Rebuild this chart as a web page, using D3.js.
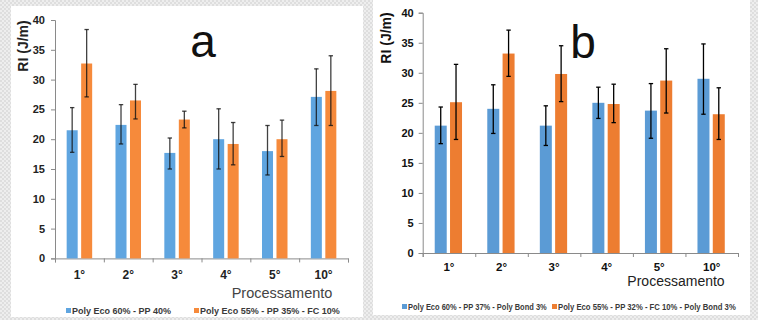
<!DOCTYPE html>
<html><head><meta charset="utf-8">
<script src="https://cdn.jsdelivr.net/npm/d3@7"></script>
<style>
html,body{margin:0;padding:0;background:#fff;}
svg{display:block;font-family:"Liberation Sans",Arial,sans-serif;}
</style></head>
<body>
<svg id="c" width="758" height="320"></svg>
<script>
const categories = ["1°","2°","3°","4°","5°","10°"];
const yTicks = [0,5,10,15,20,25,30,35,40];

const aBlue       = [21.5, 22.4, 17.7, 20.0, 18.0, 27.1];
const aBlueHigh   = [25.3, 25.8, 20.2, 25.1, 22.3, 31.8];
const aBlueLow    = [17.8, 19.2, 15.0, 15.0, 14.0, 22.3];
const aOrange     = [32.7, 26.5, 23.3, 19.2, 20.0, 28.1];
const aOrangeHigh = [38.4, 29.2, 24.7, 22.8, 23.2, 34.0];
const aOrangeLow  = [27.1, 23.4, 21.9, 15.7, 17.1, 22.3];

const bBlue       = [21.2, 24.0, 21.2, 25.0, 23.7, 29.0];
const bBlueHigh   = [24.3, 28.0, 24.5, 27.6, 28.2, 34.8];
const bBlueLow    = [18.2, 19.9, 17.9, 22.4, 19.1, 23.1];
const bOrange     = [25.1, 33.2, 29.8, 24.8, 28.7, 23.1];
const bOrangeHigh = [31.4, 37.1, 34.5, 28.1, 34.0, 27.5];
const bOrangeLow  = [18.9, 29.4, 25.2, 21.7, 23.3, 18.9];

const aLegend = ["Poly Eco 60% - PP 40%", "Poly Eco 55% - PP 35% - FC 10%"];
const bLegend = ["Poly Eco 60% - PP 37% - Poly Bond 3%", "Poly Eco 55% - PP 32% - FC 10% - Poly Bond 3%"];

const svg = d3.select("#c");
const defs = svg.append("defs");
const pat = defs.append("pattern").attr("id","chk").attr("width",4).attr("height",4).attr("patternUnits","userSpaceOnUse");
pat.append("rect").attr("width",4).attr("height",4).attr("fill","#eeeeee");
pat.append("rect").attr("width",2).attr("height",2).attr("fill","#dedede");
pat.append("rect").attr("x",2).attr("y",2).attr("width",2).attr("height",2).attr("fill","#dedede");

svg.append("rect").attr("width",758).attr("height",320).attr("fill","url(#chk)");
svg.append("rect").attr("x",11).attr("y",6).attr("width",352).attr("height",311).attr("fill","#fff");
svg.append("rect").attr("x",373).attr("y",0).attr("width",377).attr("height",315).attr("fill","#fff");

function panel(cfg){
  const g = svg.append("g");
  const y = d3.scaleLinear().domain([0,40]).range([cfg.y0, cfg.y40]);
  const x = d3.scaleBand().domain(categories).range([cfg.x0, cfg.x1]).padding(0);
  const xs = d3.scaleBand().domain([0,1]).range([-cfg.grp/2 + cfg.shift, cfg.grp/2 + cfg.shift]).paddingInner(cfg.pin);
  const bound = d3.scaleLinear().domain([0,6]).range([cfg.x0, cfg.x1]);

  const ya = g.append("g").attr("transform",`translate(${cfg.x0},0)`)
    .call(d3.axisLeft(y).tickValues(yTicks).tickSize(4).tickPadding(cfg.tpad));
  ya.select(".domain").attr("stroke","#8a8a8a");
  ya.selectAll(".tick line").attr("stroke","#8a8a8a");
  ya.selectAll("text").attr("font-size",cfg.tfs).attr("font-weight","bold").attr("fill",cfg.tcol)
    .attr("font-family",cfg.tfam);

  const xb = g.append("g").attr("transform",`translate(0,${cfg.y0})`)
    .call(d3.axisBottom(bound).tickValues([0,1,2,3,4,5,6]).tickSize(4).tickFormat(""));
  xb.select(".domain").attr("stroke","#8a8a8a");
  xb.selectAll(".tick line").attr("stroke","#8a8a8a");

  const xl = g.append("g").attr("transform",`translate(0,${cfg.y0})`)
    .call(d3.axisBottom(x).tickSize(0).tickPadding(cfg.xpad));
  xl.select(".domain").remove();
  xl.selectAll("text").attr("font-size",cfg.xfs).attr("font-weight","bold").attr("fill",cfg.tcol)
    .attr("font-family",cfg.tfam);

  const series = [
    {v:cfg.blue, hi:cfg.blueHi, lo:cfg.blueLo, c:cfg.cBlue},
    {v:cfg.orange, hi:cfg.orangeHi, lo:cfg.orangeLo, c:cfg.cOrange}
  ];
  series.forEach((s,si)=>{
    g.selectAll(null).data(categories).enter().append("rect")
      .attr("x",d=>x(d)+x.bandwidth()/2+xs(si))
      .attr("width",xs.bandwidth())
      .attr("y",(d,i)=>y(s.v[i]))
      .attr("height",(d,i)=>y(0)-y(s.v[i]))
      .attr("fill",s.c);
    const eg = g.selectAll(null).data(categories).enter().append("g")
      .attr("transform",d=>`translate(${x(d)+x.bandwidth()/2+xs(si)+xs.bandwidth()/2},0)`)
      .attr("stroke",cfg.ecol).attr("stroke-opacity",cfg.eop).attr("stroke-width",1.3);
    eg.append("line").attr("y1",(d,i)=>y(s.hi[i])).attr("y2",(d,i)=>y(s.lo[i]));
    eg.append("line").attr("x1",-2.2).attr("x2",2.2).attr("y1",(d,i)=>y(s.hi[i])).attr("y2",(d,i)=>y(s.hi[i]));
    eg.append("line").attr("x1",-2.2).attr("x2",2.2).attr("y1",(d,i)=>y(s.lo[i])).attr("y2",(d,i)=>y(s.lo[i]));
  });

  g.append("text").attr("transform",`translate(${cfg.ylx},${cfg.yly}) rotate(-90)`)
    .attr("text-anchor","middle").attr("dominant-baseline","central")
    .attr("font-size",14).attr("font-weight","bold").attr("fill",cfg.tcol).text("RI (J/m)");

  g.append("text").attr("x",cfg.lx).attr("y",cfg.ly).attr("text-anchor","middle")
    .attr("font-size",46).attr("fill","#111").text(cfg.letter);

  g.append("text").attr("x",cfg.px).attr("y",cfg.py).attr("text-anchor","middle")
    .attr("font-size",cfg.pfs).attr("fill",cfg.pcol).text("Processamento");

  cfg.legend.forEach((t,i)=>{
    const L = cfg.leg[i];
    g.append("rect").attr("x",L.mx).attr("y",cfg.legY-3).attr("width",5).attr("height",5)
      .attr("fill",i===0?cfg.cBlue:cfg.cOrange);
    const lg = g.append("g");
    const tx = lg.append("text").attr("x",0).attr("y",0).attr("dominant-baseline","central")
      .attr("font-size",cfg.lfs).attr("font-weight","bold").attr("fill","#3a3a3a").text(t);
    const nat = tx.node().getComputedTextLength();
    const sx = L.w / nat;
    lg.attr("transform",`translate(${L.tx},${cfg.legY}) scale(${sx},1)`);
  });
}

panel({
  x0:55, x1:348, y0:258.4, y40:20, grp:25.5, pin:0.24, shift:0,
  tpad:6, tfs:11, xfs:12, xpad:12, tcol:"#222", tfam:"Liberation Sans, Arial, sans-serif",
  blue:aBlue, blueHi:aBlueHigh, blueLo:aBlueLow, orange:aOrange, orangeHi:aOrangeHigh, orangeLo:aOrangeLow,
  cBlue:"#5fa5e0", cOrange:"#f68a3b", ecol:"#111", eop:0.8,
  ylx:23, yly:46, letter:"a", lx:203, ly:57,
  px:282, py:298, pfs:14.5, pcol:"#444",
  legend:aLegend, legY:311, lfs:8.5,
  leg:[{mx:66, tx:72, w:99},{mx:194, tx:200, w:140}]
});

panel({
  x0:422.7, x1:738, y0:253, y40:12.7, grp:27.3, pin:0.216, shift:-0.6,
  tpad:5, tfs:11, xfs:11.5, xpad:10, tcol:"#111", tfam:"Liberation Sans, Arial, sans-serif",
  blue:bBlue, blueHi:bBlueHigh, blueLo:bBlueLow, orange:bOrange, orangeHi:bOrangeHigh, orangeLo:bOrangeLow,
  cBlue:"#5b9bd5", cOrange:"#ed7d31", ecol:"#000", eop:1,
  ylx:386, yly:38, letter:"b", lx:583, ly:58,
  px:676, py:286, pfs:14, pcol:"#222",
  legend:bLegend, legY:307, lfs:9,
  leg:[{mx:402, tx:408, w:139},{mx:552, tx:558, w:178}]
});
</script>
</body></html>
